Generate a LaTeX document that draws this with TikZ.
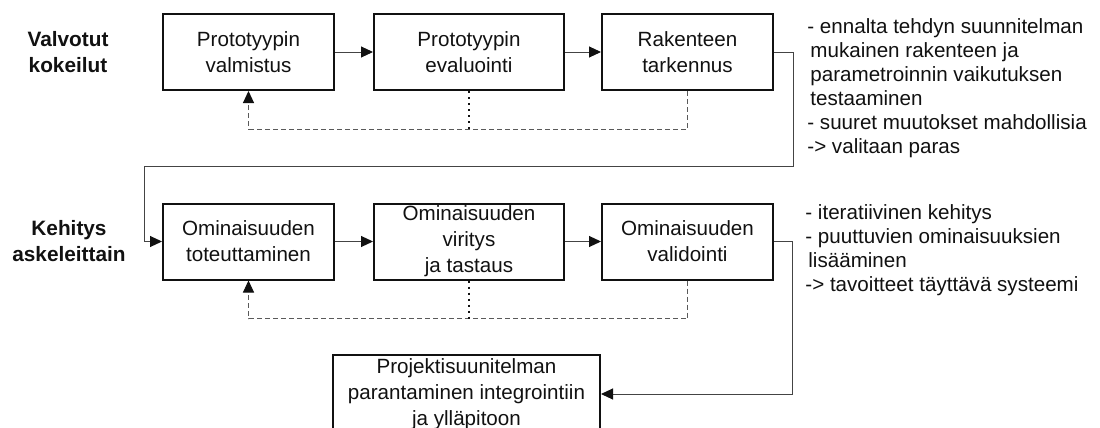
\documentclass[tikz,border=0pt]{standalone}
\usepackage{fontspec}
\setmainfont{Liberation Sans}
\usetikzlibrary{arrows.meta,positioning}
\definecolor{vkInk}{HTML}{111111}
\definecolor{vkLine}{HTML}{444444}
\definecolor{vkDash}{HTML}{5A5A5A}
\tikzset{
  % Process box
  pbox/.style={rectangle,draw=vkInk,line width=1pt,
    minimum width=85.5pt,minimum height=38pt,inner sep=1pt,
    align=center,font=\fontsize{10.3}{13}\selectfont,text=vkInk},
  % Phase label (left)
  phase/.style={align=center,inner sep=0pt,
    font=\fontsize{10.4}{13}\selectfont\bfseries,text=vkInk},
  % Notes (right)
  note/.style={align=left,anchor=north west,inner sep=0pt,
    font=\fontsize{10.3}{12}\selectfont,text=vkInk},
  % Arrows
  arr/.style={-{Triangle[length=6pt,width=5.5pt,color=vkInk]},
    line width=0.5pt,color=vkLine},
  fb/.style={-{Triangle[length=6pt,width=5.5pt,color=vkInk]},line width=0.5pt,
    dash pattern=on 2.5pt off 1.5pt,color=vkDash},
  dotl/.style={line width=1.1pt,dash pattern=on 1.1pt off 1.9pt,color=vkInk},
}

\begin{document}
\begin{tikzpicture}
  \useasboundingbox (0,0) rectangle (550pt,-214pt);

  % Valvotut kokeilut
  \node[phase] (valv) at (34pt,-26pt) {Valvotut\\kokeilut};
  \node[pbox] (proto) at (124.25pt,-26pt) {Prototyypin\\valmistus};
  \node[pbox,right=19pt of proto,minimum width=95pt] (eval)
    {Prototyypin\\evaluointi};
  \node[pbox,right=18pt of eval] (tark) {Rakenteen\\tarkennus};
  \node[note] (note1) at (403.5pt,-9pt)
    {- ennalta tehdyn suunnitelman\\
     \hspace*{1.5pt}mukainen rakenteen ja\\
     \hspace*{1.5pt}parametroinnin vaikutuksen\\
     \hspace*{1.5pt}testaaminen\\
     - suuret muutokset mahdollisia\\
     -> valitaan paras};

  % Kehitys askeleittain
  \node[phase] (kehi) at (34.5pt,-120.5pt) {Kehitys\\askeleittain};
  \node[pbox] (tot) at (124.25pt,-120.75pt) {Ominaisuuden\\toteuttaminen};
  \node[pbox,right=19pt of tot,minimum width=95pt] (viri)
    {Ominaisuuden\\viritys\\ja tastaus};
  \node[pbox,right=18pt of viri] (vali) {Ominaisuuden\\validointi};
  \node[note] (note2) at (402.5pt,-102pt)
    {- iteratiivinen kehitys\\
     - puuttuvien ominaisuuksien\\
     \hspace*{1.5pt}lisääminen\\
     -> tavoitteet täyttävä systeemi};

  \node[pbox,minimum width=133.5pt,minimum height=39pt] (proj)
    at (233.25pt,-197pt)
    {Projektisuunitelman\\parantaminen integrointiin\\ja ylläpitoon};

  \coordinate[below=19pt of tark.south] (fb1);
  \coordinate[below=19pt of vali.south] (fb2);
  \coordinate (jump) at (72pt,-83pt);

  \draw[arr] (proto.east) -- (eval.west);
  \draw[arr] (eval.east) -- (tark.west);
  \draw[fb] (tark.south) -- (fb1) -| (proto.south);
  \draw[dotl] (eval.south) -- (eval.south |- fb1);
  \draw[arr] (tark.east) -- ++(9.5pt,0) |- (jump) |- (tot.west);

  \draw[arr] (tot.east) -- (viri.west);
  \draw[arr] (viri.east) -- (vali.west);
  \draw[fb] (vali.south) -- (fb2) -| (tot.south);
  \draw[dotl] (viri.south) -- (viri.south |- fb2);
  \draw[arr] (vali.east) -- ++(9pt,0) |- (proj.east);
\end{tikzpicture}
\end{document}
